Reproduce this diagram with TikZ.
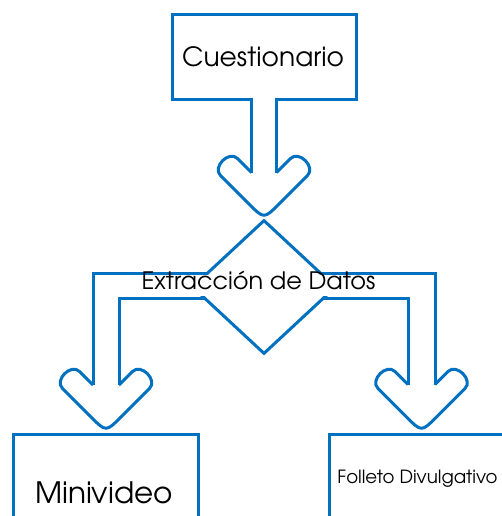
\documentclass[tikz,border=0pt]{standalone}
\usepackage{fontspec}
\setmainfont{TeX Gyre Adventor}
\usetikzlibrary{shapes.geometric}
\definecolor{obl}{RGB}{0,112,192}
\newcommand\blockhead[3]{%
  \pgfmathsetmacro\bhJ{#3-69+(35-#2)}%
  \draw[arrowline] ({#1-#2},\bhJ) -- ({#1-35+8.5},{#3-69+8.5}) .. controls ({#1-35},{#3-69}) and ({#1-52},{#3-52}) .. ({#1-52+8.5},{#3-52+8.5})
    -- ({#1-15},{#3-15}) .. controls (#1,#3) .. ({#1+15},{#3-15})
    -- ({#1+52-8.5},{#3-52+8.5}) .. controls ({#1+52},{#3-52}) and ({#1+35},{#3-69}) .. ({#1+35-8.5},{#3-69+8.5})
    -- ({#1+#2},\bhJ);%
}
\begin{document}
\begin{tikzpicture}[x=1pt,y=-1pt,
  arrowline/.style={draw=obl,line width=3pt},
  boxst/.style={draw=obl,line width=3pt,fill=white,inner sep=0pt},
  lbl/.style={anchor=base,inner sep=0pt,text=black}]
\useasboundingbox (0,0) rectangle (502,516);
\clip (0,0) rectangle (502,516);
% top box
\node[boxst,minimum width=184pt,minimum height=85pt] (cuest) at (264,57.5) {};
\fill[white] (253,95) rectangle (275,105);
\node[lbl,font=\fontsize{26.5}{30}\selectfont] (tcuest) at (263,67) {Cuestionario};
% central arrow
\coordinate (sl) at (251.5,100);
\coordinate (sr) at (276.5,100);
\draw[arrowline] (sl) -- (251.5,172.5);
\draw[arrowline] (sr) -- (276.5,172.5);
\blockhead{264}{12.5}{219}
% diamond
\node[draw=obl,line width=3pt,fill=white,diamond,minimum width=144pt,minimum height=134pt,inner sep=0pt] (dia) at (264,287) {};
\fill[white] (185,275) rectangle (343,296);
% bent band
\draw[arrowline] (207,273) -- (93,273) -- (93,385);
\draw[arrowline] (119,385) -- (119,298) -- (204,298);
\blockhead{106}{13}{432}
\draw[arrowline] (321,273) -- (435,273) -- (435,384.5);
\draw[arrowline] (408,384.5) -- (408,298) -- (324,298);
\blockhead{421.5}{13.5}{432}
\node[lbl,font=\fontsize{24}{28}\selectfont] (tdia) at (258.5,289) {Extracción de Datos};
% bottom boxes
\node[boxst,minimum width=185pt,minimum height=130pt] (mini) at (105.5,499) {};
\node[lbl,font=\fontsize{29.5}{34}\selectfont] (tmini) at (104,503) {Minivideo};
\node[boxst,minimum width=240pt,minimum height=130pt] (foll) at (449,499) {};
\node[lbl,font=\fontsize{18.2}{22}\selectfont] (tfoll) at (417.5,483) {Folleto Divulgativo};
\end{tikzpicture}
\end{document}
